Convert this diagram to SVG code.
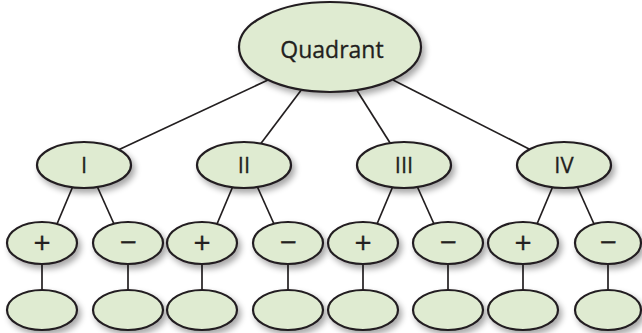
<svg xmlns="http://www.w3.org/2000/svg" width="642" height="333" viewBox="0 0 642 333">
<defs>
<filter id="sh" x="-30%" y="-30%" width="170%" height="180%">
<feGaussianBlur in="SourceAlpha" stdDeviation="3"/>
<feOffset dx="3" dy="4" result="b"/>
<feComponentTransfer><feFuncA type="linear" slope="0.35"/></feComponentTransfer>
<feMerge><feMergeNode/><feMergeNode in="SourceGraphic"/></feMerge>
</filter>
</defs>
<style>
.n{fill:#dfebd1;stroke:#231f20;stroke-width:2.2;filter:url(#sh)}
.c line{stroke:#231f20;stroke-width:1.7}
text{font-family:"Open Sans","Liberation Sans",sans-serif;fill:#231f20;stroke:#231f20;stroke-width:0.3;text-anchor:middle}
.t1{font-size:23px}
.t2{font-size:22px}
.t3{font-size:30px}
</style>
<rect width="642" height="333" fill="#ffffff"/>
<g id="connectors" class="c">
<line x1="268" y1="80" x2="116" y2="151"/>
<line x1="302" y1="89" x2="259" y2="146"/>
<line x1="356" y1="89" x2="392" y2="146"/>
<line x1="393" y1="80" x2="533" y2="151"/>
<line x1="73" y1="186" x2="57" y2="224"/>
<line x1="97" y1="186" x2="114" y2="224"/>
<line x1="233" y1="186" x2="217" y2="224"/>
<line x1="257" y1="186" x2="274" y2="224"/>
<line x1="393" y1="186" x2="377" y2="224"/>
<line x1="417" y1="186" x2="434" y2="224"/>
<line x1="553" y1="186" x2="537" y2="224"/>
<line x1="577" y1="186" x2="594" y2="224"/>
<line x1="42" y1="262" x2="42" y2="292"/>
<line x1="128" y1="262" x2="128" y2="292"/>
<line x1="202" y1="262" x2="202" y2="292"/>
<line x1="288" y1="262" x2="288" y2="292"/>
<line x1="363" y1="262" x2="363" y2="292"/>
<line x1="448" y1="262" x2="448" y2="292"/>
<line x1="523" y1="262" x2="523" y2="292"/>
<line x1="608" y1="262" x2="608" y2="292"/>
</g>
<g id="quadrant"><ellipse class="n" cx="330" cy="47" rx="91" ry="45"/><text class="t1" x="332" y="58">Quadrant</text></g>
<g id="q1"><ellipse class="n" cx="84" cy="165" rx="47" ry="23"/><text class="t2" x="84" y="173">I</text></g>
<g id="q2"><ellipse class="n" cx="244" cy="165" rx="47" ry="23"/><text class="t2" x="244" y="173">II</text></g>
<g id="q3"><ellipse class="n" cx="404" cy="165" rx="47" ry="23"/><text class="t2" x="404" y="173">III</text></g>
<g id="q4"><ellipse class="n" cx="564" cy="165" rx="47" ry="23"/><text class="t2" x="564" y="173">IV</text></g>
<g id="q1p"><ellipse class="n" cx="42" cy="243" rx="35" ry="21"/><text class="t3" x="42" y="253">+</text></g>
<g id="q1m"><ellipse class="n" cx="128" cy="243" rx="35" ry="21"/><text class="t3" x="128" y="253">−</text></g>
<g id="q2p"><ellipse class="n" cx="202" cy="243" rx="35" ry="21"/><text class="t3" x="202" y="253">+</text></g>
<g id="q2m"><ellipse class="n" cx="288" cy="243" rx="35" ry="21"/><text class="t3" x="288" y="253">−</text></g>
<g id="q3p"><ellipse class="n" cx="363" cy="243" rx="35" ry="21"/><text class="t3" x="363" y="253">+</text></g>
<g id="q3m"><ellipse class="n" cx="448" cy="243" rx="35" ry="21"/><text class="t3" x="448" y="253">−</text></g>
<g id="q4p"><ellipse class="n" cx="523" cy="243" rx="35" ry="21"/><text class="t3" x="523" y="253">+</text></g>
<g id="q4m"><ellipse class="n" cx="608" cy="243" rx="33" ry="21"/><text class="t3" x="608" y="253">−</text></g>
<g id="q1p-e"><ellipse class="n" cx="42" cy="310" rx="35" ry="20"/></g>
<g id="q1m-e"><ellipse class="n" cx="128" cy="310" rx="35" ry="20"/></g>
<g id="q2p-e"><ellipse class="n" cx="202" cy="310" rx="35" ry="20"/></g>
<g id="q2m-e"><ellipse class="n" cx="288" cy="310" rx="35" ry="20"/></g>
<g id="q3p-e"><ellipse class="n" cx="363" cy="310" rx="35" ry="20"/></g>
<g id="q3m-e"><ellipse class="n" cx="448" cy="310" rx="35" ry="20"/></g>
<g id="q4p-e"><ellipse class="n" cx="523" cy="310" rx="35" ry="20"/></g>
<g id="q4m-e"><ellipse class="n" cx="608" cy="310" rx="33" ry="20"/></g>
</svg>
